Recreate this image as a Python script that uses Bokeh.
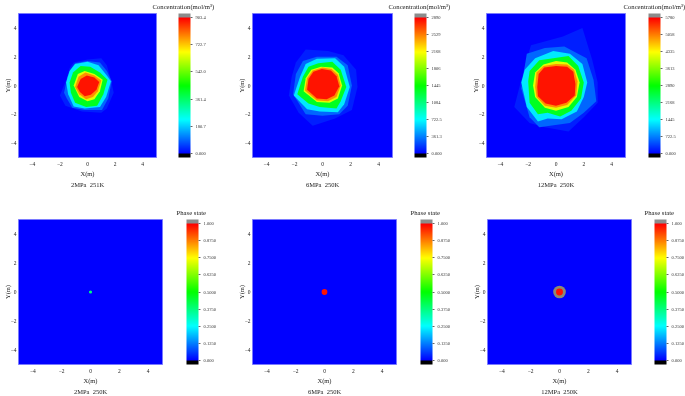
from bokeh.plotting import figure
from bokeh.layouts import column, row
from bokeh.models import ColorBar, LinearColorMapper, FixedTicker, Title, ColumnDataSource, InlineStyleSheet
from bokeh.embed import file_html
from bokeh.resources import INLINE

FONT = "Liberation Serif"
AXIS_TICKS = [-4, -2, 0, 2, 4]

CONC_TITLE = "Concentration(mol/m\u00b3)"
PHASE_TITLE = "Phase state"
CONDITIONS = ["2MPa\u00a0\u00a0251K", "6MPa\u00a0\u00a0250K", "12MPa\u00a0\u00a0250K",
              "2MPa\u00a0\u00a0250K", "6MPa\u00a0\u00a0250K", "12MPa\u00a0\u00a0250K"]

CB1_TICKS = ["0.000", "180.7", "361.4", "542.0", "722.7", "903.4"]
CB2_TICKS = ["0.000", "361.3", "722.5", "1084", "1445", "1806", "2168", "2529", "2890"]
CB3_TICKS = ["0.000", "722.5", "1445", "2168", "2890", "3613", "4335", "5058", "5780"]
CB_PHASE_TICKS = ["0.000", "0.1250", "0.2500", "0.3750", "0.5000", "0.6250", "0.7500", "0.8750", "1.000"]

# contour fill levels as a share of the colour-bar maximum, outermost first
LEVELS = [0.03, 0.10, 0.23, 0.47, 0.72, 0.86, 0.98]

P1_CONTOURS = [
    [(-2.0,-0.7),(-1.5,0.5),(-1.3,1.2),(-1.0,1.6),(0.0,1.8),(1.0,1.9),(1.4,1.4),(1.7,0.4),(1.9,-0.5),(1.4,-1.6),(1.0,-1.9),(-0.4,-1.8),(-1.6,-1.4)],
    [(-1.7,-0.5),(-1.45,0.6),(-1.2,1.15),(-0.9,1.55),(0.0,1.7),(0.9,1.6),(1.4,1.0),(1.75,0.3),(1.5,-0.9),(1.05,-1.7),(-0.2,-1.7),(-1.1,-1.55),(-1.5,-0.9)],
    [(-1.55,0.2),(-1.3,1.0),(-0.9,1.5),(0,1.65),(0.8,1.4),(1.4,0.7),(1.7,0.3),(1.35,-0.8),(0.9,-1.5),(-0.2,-1.6),(-1.0,-1.45),(-1.4,-0.6)],
    [(-1.3,0.2),(-1.05,0.9),(-0.5,1.35),(0.2,1.3),(0.9,0.9),(1.45,0.4),(1.15,-0.6),(0.7,-1.4),(-0.1,-1.5),(-0.9,-1.2),(-1.2,-0.5)],
    [(-1.0,0.0),(-0.7,0.8),(-0.2,1.0),(0.5,0.8),(1.1,0.4),(0.9,-0.4),(0.5,-0.95),(0,-1.1),(-0.6,-0.8)],
    [(-0.9,-0.1),(-0.65,0.6),(-0.15,0.9),(0.5,0.7),(1.0,0.35),(0.75,-0.4),(0.4,-0.8),(-0.1,-0.95),(-0.6,-0.6)],
    [(-0.75,-0.1),(-0.5,0.45),(-0.05,0.7),(0.5,0.55),(0.85,0.25),(0.65,-0.3),(0.25,-0.65),(-0.2,-0.75),(-0.55,-0.45)],
]
P2_CONTOURS = [
    [(-2.2,0.6),(-1.9,1.6),(-1.2,2.5),(0.4,2.4),(1.5,2.1),(2.4,1.1),(2.5,-0.1),(2.1,-1.7),(0.9,-2.3),(-0.7,-2.8),(-1.7,-1.9),(-2.4,-0.7)],
    [(-2.1,-0.6),(-1.9,0.8),(-1.4,1.7),(-0.4,2.0),(1.0,2.0),(1.8,1.4),(2.1,0.0),(1.8,-1.4),(1.2,-2.0),(0,-2.1),(-1.2,-2.0)],
    [(-2.05,-0.7),(-1.6,0.6),(-1.2,1.5),(-0.4,1.85),(0.9,1.9),(1.55,1.3),(1.95,-0.1),(1.55,-1.3),(1.1,-1.85),(-0.2,-1.8),(-1.1,-1.65)],
    [(-1.8,-0.6),(-1.4,0.6),(-1.0,1.3),(-0.3,1.55),(0.7,1.65),(1.3,1.1),(1.7,-0.1),(1.3,-1.1),(1.0,-1.6),(-0.2,-1.5),(-1.0,-1.25)],
    [(-1.35,-0.4),(-1.2,0.5),(-0.8,1.1),(-0.1,1.3),(0.7,1.25),(1.15,0.85),(1.4,0.0),(1.1,-0.9),(0.5,-1.2),(-0.4,-1.15)],
    [(-1.25,-0.35),(-1.1,0.5),(-0.7,1.05),(0,1.25),(0.65,1.15),(1.1,0.75),(1.3,0),(1.0,-0.8),(0.4,-1.1),(-0.4,-1.05)],
    [(-1.1,-0.3),(-1.0,0.45),(-0.65,0.95),(-0.05,1.15),(0.6,1.05),(1.0,0.65),(1.2,-0.05),(0.85,-0.7),(0.3,-0.95),(-0.4,-0.9)],
]
P3_CONTOURS = [
    [(-3.0,-1.5),(-2.2,1.5),(-1.8,2.8),(0.5,3.4),(1.9,4.0),(2.6,1.8),(3.0,0.2),(3.0,-1.2),(2.0,-2.2),(0.9,-3.2),(-0.8,-2.9),(-1.9,-2.6)],
    [(-2.5,-0.2),(-2.3,1.0),(-2.1,2.2),(-0.8,2.6),(0.6,2.7),(2.2,1.9),(2.7,0.4),(2.9,-1.1),(2.0,-1.9),(1.0,-2.6),(-1.2,-2.9),(-1.9,-2.2)],
    [(-2.5,0.2),(-2.25,1.1),(-1.5,1.9),(-0.2,2.4),(1.0,2.2),(1.9,1.5),(2.25,0.2),(2.0,-0.8),(1.5,-1.8),(0.4,-2.35),(-0.6,-2.3),(-1.3,-2.5),(-2.1,-1.5)],
    [(-2.0,0.3),(-1.9,1.0),(-1.2,1.75),(-0.2,1.9),(0.9,2.05),(1.6,1.35),(2.0,0.2),(1.8,-0.9),(1.1,-1.75),(0.3,-2.15),(-0.6,-1.9),(-1.3,-2.0),(-1.9,-1.2)],
    [(-1.65,0.0),(-1.5,0.9),(-0.9,1.45),(0,1.7),(0.8,1.6),(1.4,1.1),(1.7,0.2),(1.5,-0.8),(0.9,-1.5),(0,-1.75),(-0.8,-1.55),(-1.5,-0.8)],
    [(-1.5,-0.1),(-1.4,0.9),(-0.9,1.35),(0,1.5),(0.8,1.45),(1.3,1.1),(1.55,0.3),(1.45,-0.7),(0.8,-1.35),(0,-1.55),(-0.8,-1.4),(-1.4,-0.8)],
    [(-1.35,-0.1),(-1.25,0.8),(-0.85,1.25),(0,1.35),(0.8,1.3),(1.25,0.95),(1.3,0.6),(1.4,0.1),(1.35,-0.7),(0.75,-1.2),(0,-1.4),(-0.75,-1.25),(-1.3,-0.75)],
]

# phase-state droplets: radius (m), colour-bar value, opacity, outermost first
P4_DROPLET = [(0.11, 0.38, 1.0)]
P5_DROPLET = [(0.2, 0.98, 1.0)]
P6_DROPLET = [(0.44, 0.75, 0.55), (0.24, 0.98, 1.0)]

JET_STOPS = [(0, 0, 255), (0, 255, 255), (0, 255, 0), (255, 255, 0), (255, 0, 0)]
TIP_LOW = "#000000"
TIP_HIGH = "#8c8c8c"


def make_palette():
    out = [TIP_LOW] * 8
    n = 272
    for i in range(n):
        t = i / (n - 1) * (len(JET_STOPS) - 1)
        k = min(int(t), len(JET_STOPS) - 2)
        f = t - k
        a, b = JET_STOPS[k], JET_STOPS[k + 1]
        out.append("#%02x%02x%02x" % tuple(round(a[j] + (b[j] - a[j]) * f) for j in range(3)))
    return out + [TIP_HIGH] * 8


PALETTE = make_palette()
TIP = 8 / 272
BLUR = InlineStyleSheet(css=":host { filter: blur(0.7px); }")


def panel(frame_w, frame_h, left, right, top, bottom, maxv, tick_labels, title, cond, cb_dx, title_off, title_standoff):
    p = figure(frame_width=frame_w, frame_height=frame_h, min_border_left=left, min_border_right=right,
               min_border_top=top, min_border_bottom=bottom, x_range=(-5, 5), y_range=(-5, 5),
               output_backend="svg", toolbar_location=None, background_fill_color="#0000ff",
               x_axis_label="X(m)", y_axis_label="Y(m)", stylesheets=[BLUR])
    p.grid.visible = False
    p.outline_line_color = "#7a7aff"
    p.outline_line_width = 1
    for ax in (p.xaxis[0], p.yaxis[0]):
        ax.ticker = FixedTicker(ticks=AXIS_TICKS)
        ax.axis_line_color = None
        ax.major_tick_line_color = None
        ax.minor_tick_line_color = None
        ax.major_tick_in = 0
        ax.major_tick_out = 0
        ax.minor_tick_in = 0
        ax.minor_tick_out = 0
        ax.major_label_text_font = FONT
        ax.major_label_text_font_size = "5.5px"
        ax.major_label_text_color = "#222222"
        ax.axis_label_text_font = FONT
        ax.axis_label_text_font_size = "6.5px"
        ax.axis_label_text_font_style = "normal"
        ax.axis_label_text_color = "#222222"
    p.xaxis[0].major_label_standoff = 4
    p.xaxis[0].axis_label_standoff = 1
    p.yaxis[0].major_label_standoff = 2
    p.yaxis[0].axis_label_standoff = -3

    tip = maxv * TIP
    mapper = LinearColorMapper(palette=PALETTE, low=-tip, high=maxv + tip)
    n = len(tick_labels) - 1
    ticks = [maxv * i / n for i in range(n + 1)]
    cb = ColorBar(color_mapper=mapper, width=12, height=frame_h, padding=0, margin=0,
                  location=(cb_dx, 0), ticker=FixedTicker(ticks=ticks),
                  major_label_overrides={t: s for t, s in zip(ticks, tick_labels)},
                  major_label_text_font=FONT, major_label_text_font_size="4.5px",
                  major_label_text_color="#333333", label_standoff=3,
                  major_tick_line_color="#666666", major_tick_in=0, major_tick_out=2,
                  minor_tick_line_color=None, bar_line_color=None, border_line_color=None,
                  background_fill_color=None)
    p.add_layout(cb, "center")

    p.add_layout(Title(text=title, align="left", offset=title_off, standoff=title_standoff, vertical_align="top",
                       text_font=FONT, text_font_size="6.7px", text_font_style="normal", text_color="#222222"), "above")
    p.add_layout(Title(text=cond, align="center", standoff=-2, text_font=FONT,
                       text_font_size="6.5px", text_font_style="normal", text_color="#222222"), "below")
    return p, mapper


def fill_contours(p, mapper, contours, maxv):
    src = ColumnDataSource(dict(
        xs=[[v[0] for v in c] for c in contours],
        ys=[[v[1] for v in c] for c in contours],
        v=[maxv * l for l in LEVELS],
    ))
    p.patches("xs", "ys", source=src, line_color=None,
              fill_color={"field": "v", "transform": mapper})


def fill_droplet(p, mapper, droplet):
    src = ColumnDataSource(dict(
        x=[0.0] * len(droplet), y=[0.0] * len(droplet),
        r=[d[0] for d in droplet], v=[d[1] for d in droplet], a=[d[2] for d in droplet],
    ))
    p.circle("x", "y", radius="r", source=src, line_color=None, fill_alpha="a",
             fill_color={"field": "v", "transform": mapper})


# row 1
f1, m1 = panel(138, 144, 18, 78, 13, 41, 903.4, CB1_TICKS, CONC_TITLE, CONDITIONS[0], 160, 134, 4)
f2, m2 = panel(140, 144, 18, 76, 13, 41, 2890, CB2_TICKS, CONC_TITLE, CONDITIONS[1], 162, 136, 4)
f3, m3 = panel(139, 144, 18, 60, 13, 41, 5780, CB3_TICKS, CONC_TITLE, CONDITIONS[2], 162, 137, 4)
fill_contours(f1, m1, P1_CONTOURS, 903.4)
fill_contours(f2, m2, P2_CONTOURS, 2890)
fill_contours(f3, m3, P3_CONTOURS, 5780)

# row 2
f4, m4 = panel(144, 145, 18, 72, 21, 32, 1.0, CB_PHASE_TICKS, PHASE_TITLE, CONDITIONS[3], 168, 158, 3)
f5, m5 = panel(144, 145, 18, 72, 21, 32, 1.0, CB_PHASE_TICKS, PHASE_TITLE, CONDITIONS[4], 168, 158, 3)
f6, m6 = panel(144, 145, 19, 54, 21, 32, 1.0, CB_PHASE_TICKS, PHASE_TITLE, CONDITIONS[5], 167, 157, 3)
fill_droplet(f4, m4, P4_DROPLET)
fill_droplet(f5, m5, P5_DROPLET)
fill_droplet(f6, m6, P6_DROPLET)

page = column(row(f1, f2, f3, spacing=0), row(f4, f5, f6, spacing=0), spacing=0)

open("out.html", "w").write(file_html(page, INLINE))
